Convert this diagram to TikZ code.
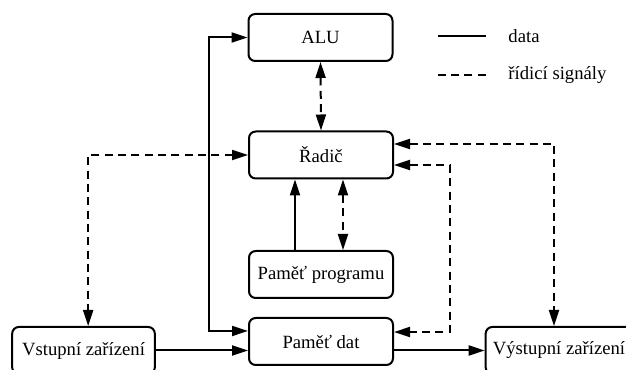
\documentclass[tikz,border=0pt]{standalone}
\usepackage{fontspec}
\setmainfont{Liberation Serif}
\newfontfamily\timesfont{Liberation Serif}
\usetikzlibrary{
  arrows.meta,
  positioning
}
\tikzset{
  >={Triangle[length=12pt, width=7.5pt]},
  every node/.style = {font=\timesfont\fontsize{14}{17}\selectfont},
  unit/.style = {draw, rounded corners=5pt, minimum width=108pt,
    minimum height=35.25pt, inner sep=0pt},
  ctrl/.style = {dashed, dash pattern=on 6pt off 4pt},
}

\begin{document}
\begin{tikzpicture}[x=0.75pt, y=-0.75pt, line width=1.5pt]
  \useasboundingbox (0,0) rectangle (626,370);
  \node[unit] (alu) at (320.5,37.5) {ALU};
  \node[unit] (radic) at (321,155) {Řadič};
  \node[unit] (pprog) at (321,274.5) {Paměť programu};
  \node[unit] (pdat) at (321,341.5) {Paměť dat};
  \node[unit, minimum width=107pt] (vstup) at (83.5,350.5) {Vstupní zařízení};
  \node[unit, minimum width=110pt] (vystup) at (559,350.5) {Výstupní zařízení};
  \node[anchor=west] (ldata) at (503,36) {data};
  \node[anchor=west] (lctrl) at (503,75) {řídicí signály};
  \draw ([xshift=-13pt]ldata.west) -- ++(-36pt,0);
  \draw[ctrl] ([xshift=-13pt]lctrl.west) -- ++(-36pt,0);
  \draw[<->] (alu.west) -- ++(-39,0) |- ([yshift=7.9pt]pdat.west);
  \draw[<->, ctrl] (alu.south) -- (radic.north);
  \draw[<->, ctrl] (radic.west) -| ([xshift=3.5pt]vstup.north);
  \draw[->] ([xshift=-19.5pt]pprog.north) -- ([xshift=-19.5pt]radic.south);
  \draw[<->, ctrl] ([xshift=16.5pt]radic.south) -- ([xshift=16.5pt]pprog.north);
  \draw[<->, ctrl] ([yshift=-7.5pt]radic.east) -- ++(55.5,0)
    |- ([yshift=7.1pt]pdat.east);
  \draw[<->, ctrl] ([yshift=8.25pt]radic.east) -| ([xshift=-3.75pt]vystup.north);
  \draw[->] (vstup.east) -- (vstup.east -| pdat.west);
  \draw[->] (vystup.west -| pdat.east) -- (vystup.west);
\end{tikzpicture}
\end{document}
